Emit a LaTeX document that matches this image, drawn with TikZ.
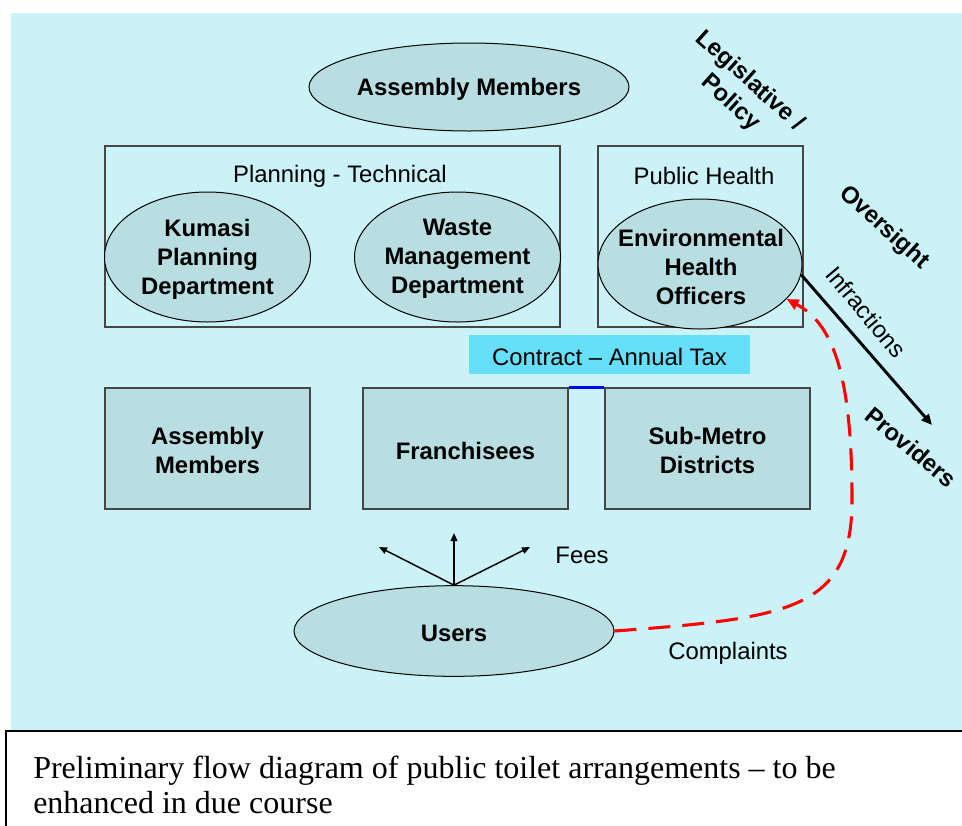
\documentclass[tikz,border=0pt]{standalone}
\usepackage{fontspec}
\setmainfont{Liberation Sans}
\newfontfamily\captionserif{Liberation Serif}
\usetikzlibrary{shapes.geometric,arrows.meta}

\definecolor{panel}{RGB}{202,242,247}
\definecolor{blob}{RGB}{185,222,226}
\definecolor{taxbar}{RGB}{102,224,250}
\definecolor{frame}{RGB}{70,70,70}

\begin{document}
\begin{tikzpicture}[x=0.75pt,y=-0.75pt,
  every node/.style={font=\fontsize{17.9pt}{21.75pt}\selectfont, inner sep=0pt},
  blobnode/.style={ellipse, draw=black, line width=0.75pt, fill=blob},
  boxnode/.style={rectangle, draw=frame, line width=0.8pt},
  unitbox/.style={boxnode, fill=blob, minimum width=153.75pt, minimum height=90.75pt},
  plaintext/.style={yshift=-1.5pt},
  boldtext/.style={font=\fontsize{17.9pt}{21.75pt}\selectfont\bfseries, align=center, yshift=-1.5pt},
  sidelabel/.style={boldtext, rotate=-42},
  feearrow/.style={-{Triangle[length=6pt,width=5pt]}, line width=1.1pt},
  infarrow/.style={-{Triangle[length=8pt,width=7pt]}, line width=2.2pt},
  complaint/.style={draw=red, line width=2.3pt, dash pattern=on 16.5pt off 9pt,
    -{Triangle[length=9pt,width=8pt]}},
]
\useasboundingbox (0,0) rectangle (962,825);

% panel and caption frame
\fill[panel] (11,13) rectangle (962,730);
\draw[line width=1.1pt] (6,840) -- (6,731) -- (980,731);

% governing bodies
\node[blobnode, minimum width=240pt, minimum height=66pt] (am) at (469,87) {};
\node[boldtext] (amtext) at (am) {Assembly Members};

\node[boxnode, minimum width=341.25pt, minimum height=135.75pt] (plan) at (332.5,236.5) {};
\node[plaintext] (plantext) at (340,174) {Planning - Technical};
\node[blobnode, minimum width=154.5pt, minimum height=97.5pt] (kpd) at (207.5,257) {};
\node[boldtext] (kpdtext) at (kpd) {Kumasi\\Planning\\Department};
\node[blobnode, minimum width=154.5pt, minimum height=97.5pt] (wmd) at (457.5,257) {};
\node[boldtext] (wmdtext) at (wmd) {Waste\\Management\\Department};

\node[boxnode, minimum width=153.75pt, minimum height=135.75pt] (ph) at (700.5,236.5) {};
\node[plaintext] (phtext) at (704,174) {Public Health};
\node[blobnode, minimum width=153pt, minimum height=97.5pt] (eho) at (700,264) {};
\node[boldtext] (ehotext) at (701,265) {Environmental\\Health\\Officers};

% contract bar
\node[fill=taxbar, minimum width=210.75pt, minimum height=29.25pt] (tax) at (609.5,354.5) {};
\node[plaintext] (taxtext) at (tax) {Contract – Annual Tax};

% providers
\node[unitbox] (amb) at (207.5,448.5) {};
\node[boldtext] (ambtext) at (amb) {Assembly\\Members};
\node[unitbox] (fr) at (465.5,448.5) {};
\node[boldtext] (frtext) at (fr) {Franchisees};
\node[unitbox] (sm) at (707.5,448.5) {};
\node[boldtext] (smtext) at (sm) {Sub-Metro\\Districts};
\draw[blue, line width=2.2pt] (fr.north east) -- (sm.north west);

% users and fees
\node[blobnode, minimum width=240pt, minimum height=68pt] (users) at (454,631) {};
\node[boldtext] (userstext) at (users) {Users};
\coordinate (feeL) at (379,547);
\coordinate (feeM) at (454,533);
\coordinate (feeR) at (530,547);
\draw[feearrow] (users.north) -- (feeL);
\draw[feearrow] (users.north) -- (feeM);
\draw[feearrow] (users.north) -- (feeR);
\node[plaintext] (fees) at (582,553) {Fees};

% complaints loop
\draw[complaint] (users.east) .. controls (790,618) and (852,610) .. (852,500)
  .. controls (852,380) and (835,325) .. (eho.-22);
\node[plaintext] (complaints) at (728,651) {Complaints};

% infractions
\coordinate (provtip) at (932,425);
\draw[infarrow] (eho.-6) -- (provtip);
\node[rotate=-50] (infr) at (866,312) {Infractions};

% side labels
\node[sidelabel] (legis) at (740,90) {Legislative /\\Policy};
\node[sidelabel] (overs) at (884,226) {Oversight};
\node[sidelabel, rotate=2] (provs) at (911,445) {Providers};

% caption
\node[anchor=base west, align=left, font=\captionserif\fontsize{24pt}{26.25pt}\selectfont] (caption) at (33,813)
  {Preliminary flow diagram of public toilet arrangements – to be\\enhanced in due course};
\end{tikzpicture}
\end{document}
